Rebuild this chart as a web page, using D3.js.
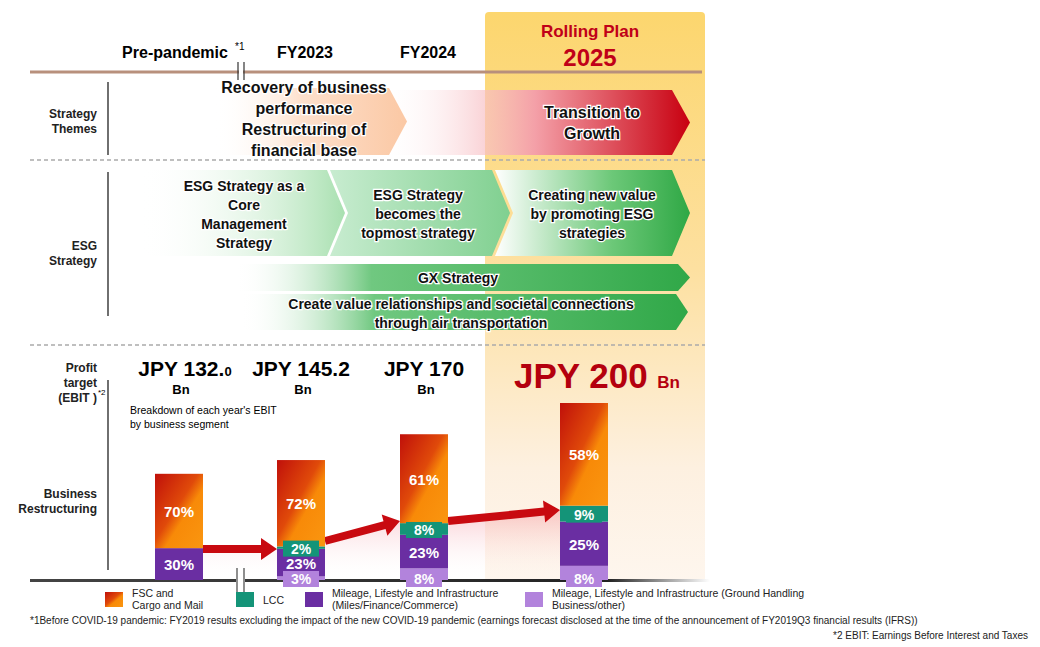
<!DOCTYPE html>
<html><head><meta charset="utf-8">
<script src="https://cdn.jsdelivr.net/npm/d3@7"></script>
<style>body{margin:0;background:#fff}text{font-family:"Liberation Sans",Arial,sans-serif}</style>
</head><body><svg width="1040" height="647"></svg>
<script>
// chart data
const years = ["Pre-pandemic", "FY2023", "FY2024", "2025"];
const ebit = [132.0, 145.2, 170, 200];
const ebitLabels = ["JPY 132.0", "JPY 145.2", "JPY 170", "JPY 200"];
const segments = ["other", "miles", "lcc", "fsc"];
const otherPct = [0, 3, 8, 8];
const milesPct = [30, 23, 23, 25];
const lccPct = [0, 2, 8, 9];
const fscPct = [70, 72, 61, 58];
const legendLabels = [["FSC and", "Cargo and Mail"], ["LCC"], ["Mileage, Lifestyle and Infrastructure", "(Miles/Finance/Commerce)"], ["Mileage, Lifestyle and Infrastructure (Ground Handling", "Business/other)"]];

const svg = d3.select("svg");
const defs = svg.append("defs");
function lin(id, stops, x2 = "100%", y2 = "0%") {
  const g = defs.append("linearGradient").attr("id", id).attr("x1", "0%").attr("y1", "0%").attr("x2", x2).attr("y2", y2);
  stops.forEach(s => g.append("stop").attr("offset", s[0]).attr("stop-color", s[1]).attr("stop-opacity", s[2] ?? 1));
}
lin("plan", [["0%", "#fcd66e"], ["45%", "#fde0a0"], ["80%", "#fdf0e0"], ["100%", "#fef6ee"]], "0%", "100%");
lin("fsc", [["0%", "#c0100a"], ["45%", "#e04a0a"], ["60%", "#f88a08"], ["100%", "#fa9610"]], "100%", "100%");
lin("red", [["0%", "#fff", 0], ["50%", "#f4a0a8"], ["100%", "#c80010"]]);
lin("peach", [["0%", "#fff", 0], ["45%", "#fde0cc"], ["100%", "#fbc8a4"]]);
lin("g1", [["0%", "#fff", 0], ["100%", "#a8e0b0"]]);
lin("g2", [["0%", "#c8ecd0"], ["100%", "#80d090"]]);
lin("g3", [["0%", "#fff"], ["60%", "#6cc878"], ["100%", "#2fa845"]]);
lin("gx", [["0%", "#fff", 0], ["30%", "#70c880"], ["100%", "#30a848"]]);
lin("pinkfade", [["0%", "#f07080", 0.7], ["100%", "#fff", 0]], "0%", "100%");

// rolling plan panel
svg.append("rect").attr("x", 485).attr("y", 12).attr("width", 220).attr("height", 570).attr("rx", 4).attr("fill", "url(#plan)");
svg.append("text").attr("x", 590).attr("y", 37).attr("text-anchor", "middle").attr("fill", "#c00018").attr("font-size", 17).attr("font-weight", "bold").text("Rolling Plan");
svg.append("text").attr("x", 590).attr("y", 66).attr("text-anchor", "middle").attr("fill", "#c00018").attr("font-size", 24).attr("font-weight", "bold").text("2025");

// timeline
svg.append("line").attr("x1", 30).attr("x2", 702).attr("y1", 72).attr("y2", 72).attr("stroke", "#b8907c").attr("stroke-width", 3);
svg.append("rect").attr("x", 239).attr("y", 66).attr("width", 4).attr("height", 10).attr("fill", "#fff");
[238, 244].forEach(x => svg.append("line").attr("x1", x).attr("x2", x).attr("y1", 62).attr("y2", 80).attr("stroke", "#333").attr("stroke-width", 1.2));
const hdr = [[175, "Pre-pandemic"], [305, "FY2023"], [428, "FY2024"]];
hdr.forEach(h => svg.append("text").attr("x", h[0]).attr("y", 58).attr("text-anchor", "middle").attr("font-size", 16).attr("font-weight", "bold").text(h[1]));
svg.append("text").attr("x", 235).attr("y", 50).attr("font-size", 10).text("*1");

// row labels and separators
function rowLabel(lines, y) {
  lines.forEach((t, i) => svg.append("text").attr("x", 97).attr("y", y + i * 15).attr("text-anchor", "end").attr("font-size", 12).attr("font-weight", "bold").attr("fill", "#222").text(t));
}
rowLabel(["Strategy", "Themes"], 118);
rowLabel(["ESG", "Strategy"], 250);
rowLabel(["Profit", "target", "(EBIT )"], 372);
svg.append("text").attr("x", 98).attr("y", 395).attr("font-size", 8).text("*2");
rowLabel(["Business", "Restructuring"], 498);
[[82, 155], [172, 316], [380, 570]].forEach(r => svg.append("line").attr("x1", 108).attr("x2", 108).attr("y1", r[0]).attr("y2", r[1]).attr("stroke", "#222").attr("stroke-width", 1.3));
[160, 345].forEach(y => svg.append("line").attr("x1", 30).attr("x2", 705).attr("y1", y).attr("y2", y).attr("stroke", "#aaa").attr("stroke-width", 1.5).attr("stroke-dasharray", "4,3"));

function chevron(x0, x1, y0, y1, tip, notch, fill) {
  const ym = (y0 + y1) / 2;
  const p = [[x0, y0], [x1 - tip, y0], [x1, ym], [x1 - tip, y1], [x0, y1]];
  if (notch) p.push([x0 + tip, ym]);
  svg.append("path").attr("d", "M" + p.join("L") + "Z").attr("fill", fill);
}
function label(lines, x, y, size, lh, fill = "#111") {
  lines.forEach((t, i) => svg.append("text").attr("x", x).attr("y", y + i * lh).attr("text-anchor", "middle").attr("font-size", size).attr("font-weight", "bold").attr("fill", fill).attr("stroke", "#fff").attr("stroke-width", 2.5).attr("paint-order", "stroke").text(t));
}

// strategy themes
chevron(380, 690, 90, 155, 18, false, "url(#red)");
chevron(215, 407, 88, 155, 18, false, "url(#peach)");
label(["Recovery of business", "performance", "Restructuring of", "financial base"], 304, 93, 16, 21);
label(["Transition to", "Growth"], 592, 118, 16, 21);

// ESG strategy
chevron(495, 690, 170, 256, 18, true, "url(#g3)");
chevron(330, 510, 170, 256, 18, true, "url(#g2)");
chevron(140, 345, 170, 256, 18, false, "url(#g1)");
label(["ESG Strategy as a", "Core", "Management", "Strategy"], 244, 191, 14, 19);
label(["ESG Strategy", "becomes the", "topmost strategy"], 418, 200, 14, 19);
label(["Creating new value", "by promoting ESG", "strategies"], 592, 200, 14, 19);
chevron(235, 690, 264, 291, 12, false, "url(#gx)");
label(["GX Strategy"], 458, 283, 14, 19);
chevron(240, 688, 294, 330, 12, false, "url(#gx)");
label(["Create value relationships and societal connections", "through air transportation"], 461, 309, 14, 19);

// profit targets
const xs = [179, 301, 424, 584];
const x = d => xs[years.indexOf(d)];
const y = d3.scaleLinear().domain([30, 200]).range([580, 403]);
ebitLabels.forEach((t, i) => {
  if (i < 3) {
    const tx = svg.append("text").attr("x", xs[i] + (i == 0 ? 6 : 0)).attr("y", 376).attr("text-anchor", "middle").attr("font-size", 21).attr("font-weight", "bold");
    if (i == 0) { tx.append("tspan").text("JPY 132."); tx.append("tspan").attr("font-size", 13).text("0"); }
    else tx.text(t);
    svg.append("text").attr("x", xs[i] + 2).attr("y", 394).attr("text-anchor", "middle").attr("font-size", 13).attr("font-weight", "bold").text("Bn");
  } else {
    const tx = svg.append("text").attr("x", 597).attr("y", 388).attr("text-anchor", "middle").attr("font-size", 35).attr("font-weight", "bold").attr("fill", "#b4000e");
    tx.append("tspan").text(t + " ");
    tx.append("tspan").attr("font-size", 17).text("Bn");
  }
});
svg.append("text").attr("x", 130).attr("y", 414).attr("font-size", 10.5).text("Breakdown of each year's EBIT");
svg.append("text").attr("x", 130).attr("y", 428).attr("font-size", 10.5).text("by business segment");

// growth arrows with fade
const arrowPts = [[203, 549, 277, 549], [325, 541, 400, 521], [448, 521, 560, 510]];
svg.append("path").attr("d", "M203,549L277,549L325,541L400,521L448,521L560,510L560,580L203,580Z").attr("fill", "url(#pinkfade)").attr("opacity", 0.5);
arrowPts.forEach(a => {
  const ang = Math.atan2(a[3] - a[1], a[2] - a[0]) * 180 / Math.PI;
  const len = Math.hypot(a[2] - a[0], a[3] - a[1]);
  svg.append("path").attr("transform", `translate(${a[0]},${a[1]}) rotate(${ang})`)
    .attr("d", `M0,-4L${len - 16},-4L${len - 16},-11L${len},0L${len - 16},11L${len - 16},4L0,4Z`).attr("fill", "#c80a10");
});

// baseline
lin("base", [["0%", "#444"], ["85%", "#222"], ["100%", "#fff"]]);
svg.append("rect").attr("x", 30).attr("y", 579).attr("width", 680).attr("height", 3).attr("fill", "url(#base)");
svg.append("rect").attr("x", 236).attr("y", 568).attr("width", 9).attr("height", 26).attr("fill", "#fff");
[237, 244].forEach(xx => svg.append("line").attr("x1", xx).attr("x2", xx).attr("y1", 568).attr("y2", 594).attr("stroke", "#444").attr("stroke-width", 1.2));

// stacked bars
const table = years.map((yr, i) => ({ year: yr, total: ebit[i], other: otherPct[i], miles: milesPct[i], lcc: lccPct[i], fsc: fscPct[i] }));
const colors = { other: "#b283dc", miles: "#6a2ea2", lcc: "#149478", fsc: "url(#fsc)" };
const bw = 48;
table.forEach(d => {
  let acc = 0;
  const h = y(30) - y(d.total);
  segments.forEach(s => {
    if (!d[s]) return;
    const y0 = y(30) - h * acc / 100, y1 = y(30) - h * (acc + d[s]) / 100;
    svg.append("rect").attr("x", x(d.year) - bw / 2).attr("y", y1).attr("width", bw).attr("height", y0 - y1).attr("fill", colors[s]);
    acc += d[s];
  });
  // labels after all rects so boxes sit on top
  acc = 0;
  segments.forEach(s => {
    if (!d[s]) return;
    const y0 = y(30) - h * acc / 100, y1 = y(30) - h * (acc + d[s]) / 100;
    acc += d[s];
    const mid = (y0 + y1) / 2;
    const small = s == "lcc" || s == "other";
    let ty = mid + 6;
    if (s == "other") ty = y(30) + 4;
    if (s == "miles" && d.other) ty = Math.min(mid + 6, y(30) - 11);
    if (small) svg.append("rect").attr("x", x(d.year) - 18).attr("y", ty - 13).attr("width", 36).attr("height", 16).attr("fill", colors[s]);
    svg.append("text").attr("x", x(d.year)).attr("y", ty).attr("text-anchor", "middle")
      .attr("font-size", small ? 14 : 15).attr("font-weight", "bold").attr("fill", "#fff").text(d[s] + "%");
  });
});

// legend
const legX = [105, 236, 305, 525];
const legC = [colors.fsc, colors.lcc, colors.miles, colors.other];
legendLabels.forEach((l, i) => {
  svg.append("rect").attr("x", legX[i]).attr("y", 592).attr("width", 18).attr("height", 15).attr("fill", legC[i]);
  l.forEach((t, j) => svg.append("text").attr("x", legX[i] + 27).attr("y", (l.length == 1 ? 604 : 597 + j * 12)).attr("font-size", 10.5).attr("fill", "#222").text(t));
});
svg.append("text").attr("x", 30).attr("y", 624).attr("font-size", 10).attr("fill", "#222").text("*1Before COVID-19 pandemic: FY2019 results excluding the impact of the new COVID-19 pandemic (earnings forecast disclosed at the time of the announcement of FY2019Q3 financial results (IFRS))");
svg.append("text").attr("x", 1028).attr("y", 639).attr("text-anchor", "end").attr("font-size", 10).attr("fill", "#222").text("*2 EBIT: Earnings Before Interest and Taxes");
</script></body></html>
